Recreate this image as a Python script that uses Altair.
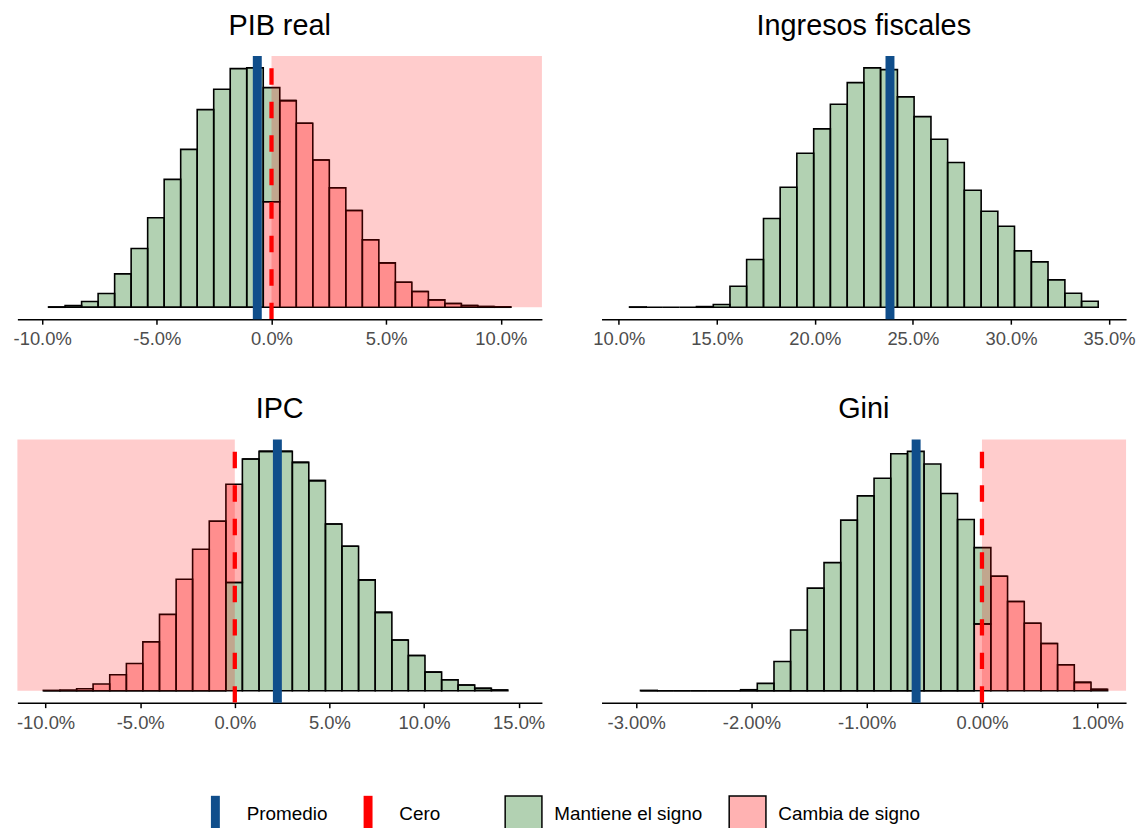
import altair as alt
import pandas as pd

FONT = "Liberation Sans"
GREEN = "rgba(0,102,0,0.3)"
RED = "rgba(255,0,0,0.3)"
BLUE = "#104E8B"
KEEP = "Mantiene el signo"
CHANGE = "Cambia de signo"

# ---------------- PIB real ----------------
pib_edges = [-9.72, -9.00, -8.28, -7.56, -6.84, -6.12, -5.40, -4.68, -3.96, -3.24,
             -2.52, -1.80, -1.08, -0.36, 0.36, 1.08, 1.80, 2.52, 3.24, 3.96,
             4.68, 5.40, 6.12, 6.84, 7.56, 8.28, 9.00, 9.72, 10.44]
pib_keep = [1, 5, 17, 41, 100, 176, 268, 383, 473, 592, 653, 715, 717, 342,
            0, 0, 0, 0, 0, 0, 0, 0, 0, 0, 0, 0, 0, 0]
pib_change = [0, 0, 0, 0, 0, 0, 0, 0, 0, 0, 0, 0, 0, 316,
              619, 551, 441, 358, 290, 202, 133, 75, 47, 22, 11, 5, 2, 1]
pib_mean = -0.62
pib_domain = [-11.08, 11.79]
pib_ticks = [-10, -5, 0, 5, 10]
pib_area = [0, 11.79]

# ---------------- Ingresos fiscales ----------------
ing_edges = [10.55, 11.40, 12.25, 13.11, 13.96, 14.82, 15.67, 16.52, 17.38, 18.23,
             19.08, 19.94, 20.79, 21.65, 22.50, 23.35, 24.21, 25.06, 25.92, 26.77,
             27.62, 28.48, 29.33, 30.18, 31.04, 31.89, 32.75, 33.60, 34.45]
ing_keep = [1, 0, 0, 0, 2, 8, 63, 143, 266, 360, 462, 535, 609, 674, 718, 713,
            631, 572, 504, 434, 351, 288, 243, 169, 136, 82, 42, 18]
ing_mean = 23.83
ing_domain = [9.12, 35.87]
ing_ticks = [10, 15, 20, 25, 30, 35]

# ---------------- IPC ----------------
ipc_edges = [-10.12, -9.24, -8.36, -7.49, -6.61, -5.73, -4.86, -3.98, -3.10, -2.23,
             -1.35, -0.47, 0.40, 1.28, 2.16, 3.04, 3.91, 4.79, 5.66, 6.54,
             7.42, 8.30, 9.17, 10.05, 10.93, 11.80, 12.68, 13.56, 14.43]
ipc_keep = [0, 0, 0, 0, 0, 0, 0, 0, 0, 0, 0, 326,
            698, 721, 721, 688, 633, 502, 435, 334, 236, 153, 106, 56, 33, 17, 7, 2]
ipc_change = [1, 2, 6, 20, 48, 82, 147, 230, 336, 426, 511, 296,
              0, 0, 0, 0, 0, 0, 0, 0, 0, 0, 0, 0, 0, 0, 0, 0]
ipc_mean = 2.25
ipc_domain = [-11.49, 16.23]
ipc_ticks = [-10, -5, 0, 5, 10, 15]
ipc_area = [-11.49, 0]

# ---------------- Gini ----------------
gini_edges = [-2.962, -2.817, -2.673, -2.528, -2.383, -2.238, -2.094, -1.949, -1.804,
              -1.660, -1.515, -1.370, -1.225, -1.081, -0.936, -0.791, -0.646, -0.502,
              -0.357, -0.212, -0.067, 0.077, 0.222, 0.367, 0.512, 0.656, 0.801, 0.946, 1.090]
gini_keep = [1, 0, 0, 0, 0, 0, 3, 22, 88, 183, 309, 386, 514, 587, 640, 714, 721,
             683, 594, 516, 230, 0, 0, 0, 0, 0, 0, 0]
gini_change = [0, 0, 0, 0, 0, 0, 0, 0, 0, 0, 0, 0, 0, 0, 0, 0, 0,
               0, 0, 0, 201, 345, 269, 203, 142, 78, 25, 4]
gini_mean = -0.571
gini_domain = [-3.30, 1.25]
gini_ticks = [-3, -2, -1, 0, 1]
gini_area = [0, 1.25]

fill_scale = alt.Scale(domain=[KEEP, CHANGE], range=[GREEN, RED])
stroke_scale = alt.Scale(domain=["Promedio", "Cero"], range=[BLUE, "red"])

fill_legend = alt.Legend(title=None, orient="none", legendX=490, legendY=744,
                         direction="horizontal", symbolType="square", symbolSize=1369,
                         symbolStrokeColor="black", symbolStrokeWidth=1.5,
                         labelFontSize=19, labelFont=FONT, labelColor="black",
                         labelOffset=11.5, columnPadding=23.5, padding=0)
stroke_legend = alt.Legend(title=None, orient="none", legendX=176.3, legendY=740,
                           direction="horizontal", symbolType="M0,-1L0,1", symbolSize=1369,
                           symbolStrokeWidth=9, labelFontSize=19, labelFont=FONT,
                           labelColor="black", labelOffset=8.5, columnPadding=17.7, padding=0)


def panel(title, edges, keep, change, bottom, mean, domain, ticks, decimals, area):
    rows = []
    for i in range(len(keep)):
        rows.append({"start": edges[i], "end": edges[i + 1], "group": KEEP,
                     "count": keep[i], "ord": 0 if bottom == KEEP else 1})
        if change is not None:
            rows.append({"start": edges[i], "end": edges[i + 1], "group": CHANGE,
                         "count": change[i], "ord": 0 if bottom == CHANGE else 1})
    df = pd.DataFrame(rows)
    totals = df.groupby("start")["count"].sum()
    m = float(totals.max())
    ytop = 1.05 * m
    xs = alt.Scale(domain=domain, nice=False, zero=False)
    ys = alt.Scale(domain=[-0.05 * m, ytop], nice=False, zero=False)
    fmt = "." + str(decimals) + "f"
    xaxis = alt.Axis(values=ticks, title=None, grid=False,
                     labelExpr="(datum.value < 0 ? '-' : '') + format(abs(datum.value), '" + fmt + "') + '%'",
                     domainColor="black", domainWidth=1.5, tickColor="black", tickWidth=1.5,
                     tickSize=5, labelColor="#4d4d4d", labelFontSize=18.5, labelFont=FONT,
                     labelPadding=5.6, labelFlush=False, labelOverlap=False)
    bars = alt.Chart(df).transform_stack(
        stack="count", groupby=["start"], as_=["y0", "y1"],
        sort=[alt.SortField("ord", order="ascending")], offset="zero"
    ).mark_rect(stroke="black", strokeWidth=1.6).encode(
        x=alt.X("start:Q", scale=xs, axis=xaxis),
        x2="end:Q",
        y=alt.Y("y0:Q", scale=ys, axis=None),
        y2="y1:Q",
        fill=alt.Fill("group:N", scale=fill_scale, legend=fill_legend),
    )
    layers = [bars]
    if area is not None:
        adf = pd.DataFrame({"x0": [area[0]], "x1": [area[1]], "y0": [0.0], "y1": [ytop]})
        layers.append(alt.Chart(adf).mark_rect(fill="red", opacity=0.2).encode(
            x="x0:Q", x2="x1:Q", y="y0:Q", y2="y1:Q"))
    mdf = pd.DataFrame({"v": [mean], "lab": ["Promedio"]})
    layers.append(alt.Chart(mdf).mark_rule(strokeWidth=9).encode(
        x="v:Q", stroke=alt.Stroke("lab:N", scale=stroke_scale, legend=stroke_legend)))
    if area is not None:
        zdf = pd.DataFrame({"v": [0.0]})
        layers.append(alt.Chart(zdf).mark_rule(color="red", strokeWidth=4.3,
                                               strokeDash=[16.5, 17.2],
                                               strokeDashOffset=21.2).encode(x="v:Q"))
    return alt.layer(*layers).properties(
        width=528, height=265,
        title=alt.TitleParams(title, fontSize=29, font=FONT, fontWeight="normal",
                              color="black", anchor="middle", baseline="alphabetic", offset=-12),
    )


pib = panel("PIB real", pib_edges, pib_keep, pib_change, CHANGE, pib_mean, pib_domain,
            pib_ticks, 1, pib_area)
ing = panel("Ingresos fiscales", ing_edges, ing_keep, None, KEEP, ing_mean, ing_domain,
            ing_ticks, 1, None)
ipc = panel("IPC", ipc_edges, ipc_keep, ipc_change, KEEP, ipc_mean, ipc_domain,
            ipc_ticks, 1, ipc_area)
gini = panel("Gini", gini_edges, gini_keep, gini_change, CHANGE, gini_mean, gini_domain,
             gini_ticks, 2, gini_area)

chart = alt.concat(pib, ing, ipc, gini, columns=2, bounds="flush",
                   spacing={"row": 121, "column": 60}).resolve_scale(
    x="independent", y="independent", fill="shared", stroke="shared"
).configure(
    padding={"left": 12.5, "top": 8.5, "right": 0, "bottom": 0},
    background="white",
    view=alt.ViewConfig(stroke=None),
)

chart.save("out.html", embed_options={"renderer": "svg", "actions": False})
